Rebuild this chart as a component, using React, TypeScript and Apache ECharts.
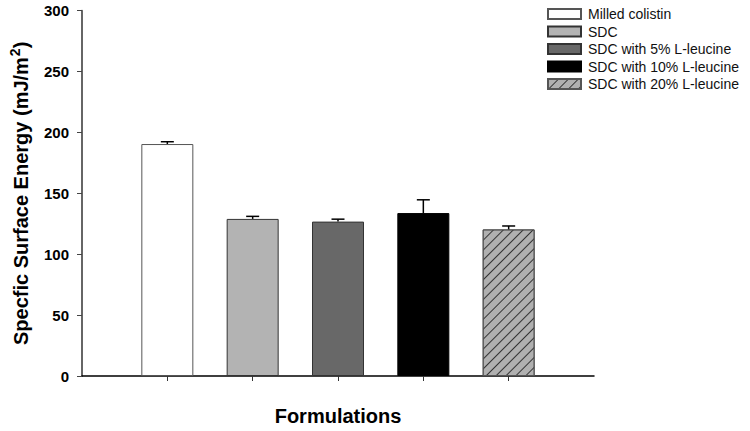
import React, { useEffect, useRef } from "react";
import * as echarts from "echarts";

const categories = [
  "Milled colistin",
  "SDC",
  "SDC with 5% L-leucine",
  "SDC with 10% L-leucine",
  "SDC with 20% L-leucine",
];
const means = [190.5, 129.0, 126.8, 133.8, 120.4];
const errors = [1.9, 2.1, 2.0, 10.9, 2.8];
const fills = ["#ffffff", "#b3b3b3", "#686868", "#000000", "#b0b0b0"];
const borders = ["#555555", "#333333", "#333333", "#000000", "#555555"];
const yMin = 0;
const yMax = 300;
const yStep = 50;

const FONT = "'Liberation Sans', Arial, sans-serif";

export default function App() {
  const ref = useRef<HTMLDivElement>(null);
  useEffect(() => {
    document.body.style.margin = "0";
    const chart = echarts.init(ref.current!, undefined, { renderer: "svg" });
    const xCats = ["", ...categories, ""];
    const barSeries = categories.map((name, i) => {
      const data: any[] = xCats.map(() => "-");
      data[i + 1] = means[i];
      const itemStyle: any = {
        color: fills[i],
        borderColor: borders[i],
        borderWidth: 1,
      };
      if (i === 4) {
        itemStyle.decal = {
          symbol: "rect",
          symbolSize: 1,
          dashArrayX: [1, 0],
          dashArrayY: [0.9, 6],
          rotation: -Math.PI / 4,
          color: "#333333",
        };
      }
      return {
        type: "bar",
        name,
        data,
        barWidth: 52,
        barGap: "-100%",
        itemStyle,
        emphasis: { disabled: true },
        z: 2,
      };
    });
    const errData = categories.map((_, i) => [i + 1, means[i], means[i] + errors[i]]);
    const errSeries = {
      type: "custom",
      name: "err",
      data: errData,
      z: 5,
      renderItem: (params: any, api: any) => {
        const x = api.value(0);
        const lo = api.coord([x, api.value(1)]);
        const hi = api.coord([x, api.value(2)]);
        const half = 6.5;
        return {
          type: "group",
          children: [
            {
              type: "line",
              shape: { x1: lo[0], y1: lo[1], x2: hi[0], y2: hi[1] },
              style: { stroke: "#000", lineWidth: 1.5 },
            },
            {
              type: "line",
              shape: { x1: hi[0] - half, y1: hi[1], x2: hi[0] + half, y2: hi[1] },
              style: { stroke: "#000", lineWidth: 1.5 },
            },
          ],
        };
      },
    };
    chart.setOption({
      animation: false,
      backgroundColor: "#ffffff",
      textStyle: { fontFamily: FONT },
      grid: { left: 81, right: 156, top: 10.7, bottom: 53, containLabel: false },
      legend: {
        data: categories,
        orient: "vertical",
        left: 542,
        top: 2,
        itemWidth: 33,
        itemHeight: 10,
        itemGap: 3.5,
        icon: "rect",
        selectedMode: false,
        textStyle: { fontFamily: FONT, fontSize: 14, color: "#111", padding: [0, 0, 0, 2], lineHeight: 14 },
      },
      xAxis: {
        type: "category",
        data: xCats,
        boundaryGap: false,
        axisLine: { lineStyle: { color: "#000", width: 1.5 } },
        axisTick: {
          length: 5,
          interval: (index: number) => index > 0 && index < xCats.length - 1,
          lineStyle: { color: "#333", width: 1 },
        },
        axisLabel: { show: false },
        splitLine: { show: false },
        name: "Formulations",
        nameLocation: "middle",
        nameGap: 30,
        nameTextStyle: { fontFamily: FONT, fontSize: 20, fontWeight: "bold", color: "#000" },
      },
      yAxis: {
        type: "value",
        min: yMin,
        max: yMax,
        interval: yStep,
        axisLine: { show: true, lineStyle: { color: "#666", width: 2 } },
        axisTick: { show: true, length: 5, lineStyle: { color: "#444", width: 1 } },
        axisLabel: {
          fontFamily: FONT,
          fontSize: 15,
          fontWeight: "bold",
          color: "#000",
          margin: 13,
        },
        splitLine: { show: false },
        name: "{a|Specfic Surface Energy (mJ/m}{b|2}{a|)}",
        nameLocation: "middle",
        nameRotate: 90,
        nameGap: 48,
        nameTextStyle: {
          rich: {
            a: { fontFamily: FONT, fontSize: 20, fontWeight: "bold", color: "#000", lineHeight: 26 },
            b: {
              fontFamily: FONT,
              fontSize: 14,
              fontWeight: "bold",
              color: "#000",
              verticalAlign: "top",
              lineHeight: 26,
              padding: [0, 0, 10, 1],
            },
          },
        },
      },
      series: [...barSeries, errSeries],
    });
    return () => chart.dispose();
  }, []);
  return (
    <div
      ref={ref}
      style={{ width: 750, height: 431, position: "fixed", left: 0, top: 0 }}
    />
  );
}
